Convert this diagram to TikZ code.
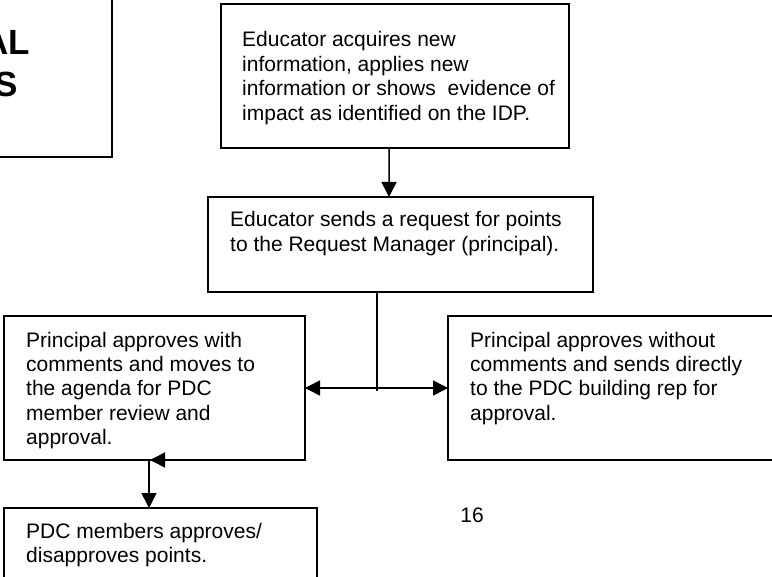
\documentclass[tikz,border=0pt]{standalone}
\usepackage{fontspec}
\setmainfont{Liberation Sans}
\usetikzlibrary{arrows.meta}
\newcommand{\bodytext}[1]{\parbox[t]{340bp}{\fontsize{21bp}{24.4bp}\selectfont\raggedright #1}}
\begin{document}
\begin{tikzpicture}[x=1bp,y=-1bp,
  box/.style={draw, line width=1.5bp, anchor=north west, inner sep=0pt, outer sep=0pt},
  conn/.style={line width=1.5bp},
  tip/.style={-{Triangle[length=15bp,width=15bp]}},
  both/.style={{Triangle[length=15bp,width=15bp]}-{Triangle[length=15bp,width=15bp]}},
  txt/.style={anchor=base west, inner sep=0pt},
]
\useasboundingbox (0,0) rectangle (772,577);
\clip (0,0) rectangle (772,577);

% boxes
\node[box, minimum width=130bp, minimum height=175bp] (title) at (-18,-18) {};
\node[box, minimum width=348bp, minimum height=144bp] (top) at (221,4) {};
\node[box, minimum width=385bp, minimum height=95bp] (mid) at (208,197) {};
\node[box, minimum width=301bp, minimum height=144bp] (left) at (4,316) {};
\node[box, minimum width=360bp, minimum height=144bp] (right) at (448,316) {};
\node[box, minimum width=313bp, minimum height=100bp] (bot) at (4,508) {};

% texts
\node[anchor=base east, inner sep=0pt, font=\fontsize{35bp}{42bp}\selectfont\bfseries] (t1) at (30,55) {AL};
\node[anchor=base east, inner sep=0pt, font=\fontsize{35bp}{42bp}\selectfont\bfseries] (t2) at (18,97) {S};

\node[txt] (toptext) at (242,47) {\bodytext{Educator acquires new\\information, applies new\\information or shows~ evidence of\\impact as identified on the IDP.}};
\node[txt] (midtext) at (230,227) {\bodytext{Educator sends a request for points\\to the Request Manager (principal).}};
\node[txt] (lefttext) at (26,347) {\bodytext{Principal approves with\\comments and moves to\\the agenda for PDC\\member review and\\approval.}};
\node[txt] (righttext) at (470,347) {\bodytext{Principal approves without\\comments and sends directly\\to the PDC building rep for\\approval.}};
\node[txt] (bottext) at (26,538) {\bodytext{PDC members approves/\\disapproves points.}};
\node[anchor=base, inner sep=0pt, font=\fontsize{21bp}{24bp}\selectfont] (page) at (472,522) {16};

% connectors
\draw[conn,tip] ([xshift=168bp]top.south west) -- ([xshift=181bp]mid.north west);
\coordinate (j) at ([xshift=169bp]mid.south west |- left.east);
\draw[conn] ([xshift=169bp]mid.south west) -- ([yshift=-3bp]j);
\draw[conn,both] (left.east) -- (right.west);
\draw[conn,tip] ([xshift=145bp]left.south west) -- ([xshift=145bp]bot.north west);
\draw[conn,tip] ([xshift=163bp]left.south west) -- ([xshift=146bp]left.south west);
\end{tikzpicture}
\end{document}
